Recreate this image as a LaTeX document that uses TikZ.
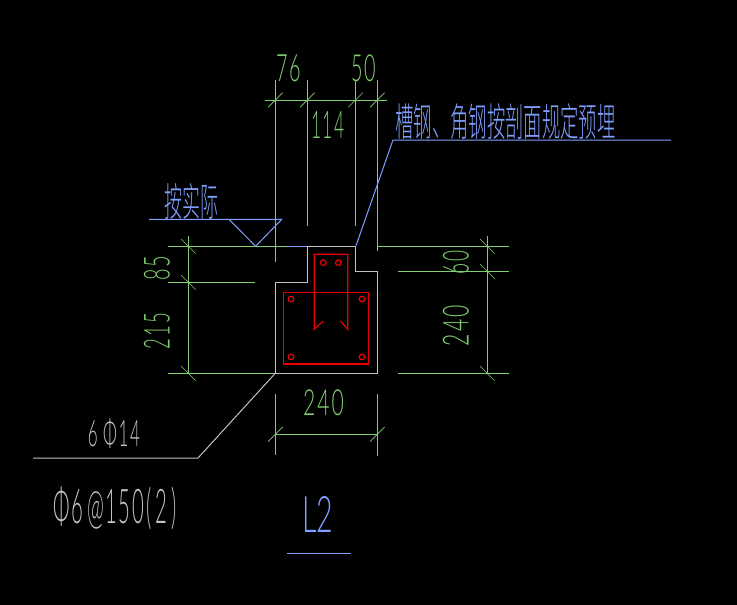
\documentclass[tikz,border=0pt]{standalone}
\usepackage{fontspec}
\usepackage{graphicx}
\newfontfamily\cadfont[UprightFont=* Light]{Lato}
\newfontfamily\cjkfont[UprightFont=* Light]{Noto Sans CJK SC}
\definecolor{cadgreen}{RGB}{128,208,112}
\definecolor{cadblue}{RGB}{128,160,255}
\definecolor{cadgray}{RGB}{195,195,195}
\definecolor{cadred}{RGB}{235,0,0}
\newcommand{\fitbox}[3]{\resizebox*{#1pt}{#2pt}{#3}}
\newcommand{\gp}{\kern0.1em}
\tikzset{
  dimline/.style={draw=cadgreen,line width=0.9pt},
  tickmark/.style={draw=cadgreen,line width=0.7pt},
  wall/.style={draw=cadgray,line width=1pt},
  rebar/.style={draw=cadred,line width=1.25pt},
  callout/.style={draw=cadblue,line width=1pt},
  lbl/.style={inner sep=0pt,outer sep=0pt,anchor=center,font=\cadfont},
  cjklbl/.style={inner sep=0pt,outer sep=0pt,anchor=center,font=\cjkfont,text=cadblue},
}
\begin{document}
\begin{tikzpicture}[x=1pt,y=-1pt]
\useasboundingbox[fill=black] (0,0) rectangle (737,605);
% top dimension
\draw[dimline] (265,100) -- (387,100);
\foreach \p/\e in {275.3/262,307.3/225.5,355.5/225.5,377.3/250.5}
  \draw[dimline] (\p,80) -- (\p,\e);
\foreach \p in {275.3,307.3,355.5,377.3}
  \draw[tickmark] (\p-7.3,107.3) -- (\p+7.3,92.7);
% left dimension
\draw[dimline] (168,246.3) -- (287,246.3);
\draw[dimline] (168,282.3) -- (255,282.3);
\draw[dimline] (168,373.3) -- (275.3,373.3);
\draw[dimline] (188.3,236) -- (188.3,373.3);
\foreach \p in {246.3,282.3,373.3}
  \draw[tickmark] (181,\p-7.3) -- (195.6,\p+7.3);
% right dimension
\draw[dimline] (377.3,246.3) -- (509,246.3);
\draw[dimline] (398,271.3) -- (509,271.3);
\draw[dimline] (398,373.3) -- (509,373.3);
\draw[dimline] (487.3,236) -- (487.3,373.3);
\foreach \p in {246.3,271.3,373.3}
  \draw[tickmark] (480,\p-7.3) -- (494.6,\p+7.3);
% bottom dimension
\draw[dimline] (275.3,434.3) -- (377.3,434.3);
\draw[dimline] (275.3,394) -- (275.3,455);
\draw[dimline] (377.3,394) -- (377.3,456);
\foreach \p in {275.3,377.3}
  \draw[tickmark] (\p-7.3,441.6) -- (\p+7.3,427);
% beam outline
\draw[wall] (307.3,246.3) -- (355.3,246.3) -- (355.3,271.3) -- (377.3,271.3) -- (377.3,373.3) -- (275.3,373.3) -- (275.3,282.3) -- (307.3,282.3) -- cycle;
% reinforcement
\draw[rebar] (283.3,292.3) rectangle (368.7,364);
\draw[rebar] (323.3,321) -- (314.3,329.3) -- (314.3,254.3) -- (347.7,254.3) -- (347.7,329.3) -- (340.3,321);
\foreach \cx/\cy in {291/299,362/299,291/357,362/357,323.3/262.7,338.3/262.7}
  \draw[rebar] (\cx,\cy) circle (2.8);
% callouts
\draw[callout] (287,246.3) -- (307.3,246.3);
\draw[callout] (149,219.3) -- (281.7,219.3) -- (255.7,246.3) -- (229,219.3);
\draw[callout] (356,245.7) -- (393,140) -- (671,140);
\draw[wall] (275.3,373.3) -- (198,458) -- (33,458);
\draw[callout] (287,553.7) -- (351,553.7);
% dimension texts
\node[lbl,text=cadgreen] (d76) at (288.5,68.5) {\fitbox{25}{27}{7\gp 6}};
\node[lbl,text=cadgreen] (d50) at (363.5,68.5) {\fitbox{25}{27}{5\gp 0}};
\node[lbl,text=cadgreen] (d114) at (328,124.5) {\fitbox{34}{27}{1\gp 1\gp 4}};
\node[lbl,text=cadgreen,rotate=90] (d85) at (157,268) {\fitbox{25}{26}{8\gp 5}};
\node[lbl,text=cadgreen,rotate=90] (d215) at (157,331) {\fitbox{36}{26}{2\gp 1\gp 5}};
\node[lbl,text=cadgreen,rotate=90] (d60) at (456,262) {\fitbox{24}{26}{6\gp 0}};
\node[lbl,text=cadgreen,rotate=90] (d240r) at (456,325.5) {\fitbox{41}{26}{2\gp 4\gp 0}};
\node[lbl,text=cadgreen] (d240b) at (323.5,403) {\fitbox{41}{26}{2\gp 4\gp 0}};
% notes
\node[lbl,text=cadgray] (bars) at (114,434) {\fitbox{52}{30}{6\kern0.3em Φ\kern0.1em 1\gp 4}};
\node[lbl,text=cadgray] (stir) at (115.5,508.5) {\fitbox{123}{43}{Φ\kern0.05em 6\kern0.2em @\kern0.05em 1\gp 5\gp 0\kern0.1em(\kern0.2em 2\kern0.2em)}};
\node[lbl,text=cadblue] (title) at (317.5,514) {\fitbox{31}{36}{L2}};
\node[cjklbl] (cnote) at (505.5,122) {\fitbox{220}{36}{槽钢、角钢按剖面规定预埋}};
\node[cjklbl] (actual) at (191,202) {\fitbox{54}{36}{按实际}};
\end{tikzpicture}
\end{document}
